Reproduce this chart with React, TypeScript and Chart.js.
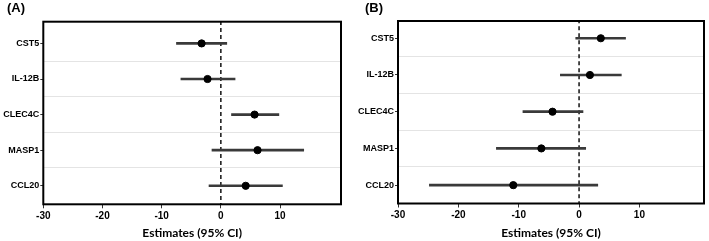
import React, { useEffect, useRef } from "react";
import { Chart, registerables } from "chart.js";

Chart.register(...registerables);

const CATEGORIES = ["CST5", "IL-12B", "CLEC4C", "MASP1", "CCL20"];
const X_TICKS = [-30, -20, -10, 0, 10];
const SEPARATORS = [1.5, 2.5, 3.5, 4.5];
const REF_VALUE = 0;

const EST_A = [-3.25, -2.25, 5.7, 6.2, 4.2];
const LOW_A = [-7.5, -6.75, 1.8, -1.5, -2.0];
const HIGH_A = [1.0, 2.4, 9.8, 14.0, 10.4];

const EST_B = [3.6, 1.8, -4.4, -6.25, -10.9];
const LOW_B = [-0.55, -3.1, -9.3, -13.7, -24.8];
const HIGH_B = [7.7, 7.0, 0.65, 1.1, 3.1];

const SANS = "'Liberation Sans', Arial, sans-serif";

const boxPlugin = {
  id: "box",
  afterDraw(chart: any) {
    const { ctx, chartArea } = chart;
    ctx.save();
    ctx.strokeStyle = "#000";
    ctx.lineWidth = 2;
    ctx.strokeRect(chartArea.left, chartArea.top, chartArea.right - chartArea.left, chartArea.bottom - chartArea.top);
    ctx.restore();
  },
};

type PanelProps = {
  label: string;
  labelLeft: number;
  est: number[];
  low: number[];
  high: number[];
  left: number;
  width: number;
  yWidth: number;
  padRight: number;
  padTop: number;
  xHeight: number;
  xMax: number;
  yMin: number;
  yMax: number;
};

function Panel(p: PanelProps) {
  const ref = useRef<HTMLCanvasElement>(null);
  useEffect(() => {
    if (!ref.current) return;
    const rows = CATEGORIES.map((_, i) => i + 1);
    const yTicks = [...rows, ...SEPARATORS].sort((a, b) => a - b);
    const chart = new Chart(ref.current, {
      type: "scatter",
      data: {
        datasets: [
          {
            type: "line",
            data: [
              { x: REF_VALUE, y: p.yMin - 1 },
              { x: REF_VALUE, y: p.yMax + 1 },
            ],
            borderColor: "#111",
            borderWidth: 1.5,
            borderDash: [4, 3],
            pointRadius: 0,
            order: 3,
          } as any,
          {
            type: "bar",
            indexAxis: "y",
            data: rows.map((r, i) => ({ x: [p.low[i], p.high[i]], y: r })),
            backgroundColor: "#3a3a3a",
            barThickness: 2,
            order: 2,
          } as any,
          {
            type: "scatter",
            data: rows.map((r, i) => ({ x: p.est[i], y: r })),
            backgroundColor: "#000",
            borderColor: "#000",
            pointRadius: 3.6,
            order: 1,
          } as any,
        ],
      },
      options: {
        animation: false,
        responsive: false,
        layout: { padding: { left: 0, right: p.padRight, top: p.padTop, bottom: 0 } },
        plugins: {
          legend: { display: false },
          tooltip: { enabled: false },
        },
        scales: {
          x: {
            type: "linear",
            min: -30,
            max: p.xMax,
            afterBuildTicks: (s: any) => {
              s.ticks = X_TICKS.map((v) => ({ value: v }));
            },
            afterFit: (s: any) => {
              s.height = p.xHeight;
            },
            grid: { drawOnChartArea: false, tickLength: 4, tickColor: "#333", tickWidth: 1 },
            border: { display: false },
            ticks: {
              color: "#000",
              padding: 2,
              font: { family: SANS, size: 10, weight: "bold" },
              autoSkip: false,
              maxRotation: 0,
            },
            title: {
              display: true,
              text: "Estimates (95% CI)",
              color: "#000",
              font: { family: "Lato, 'Open Sans', sans-serif", size: 12, weight: "bold" },
              padding: { top: 0, bottom: 1 },
            },
          },
          y: {
            type: "linear",
            reverse: true,
            min: p.yMin,
            max: p.yMax,
            offset: false,
            afterBuildTicks: (s: any) => {
              s.ticks = yTicks.map((v) => ({ value: v }));
            },
            afterFit: (s: any) => {
              s.width = p.yWidth;
            },
            grid: {
              offset: false,
              drawOnChartArea: true,
              tickLength: 3,
              color: (c: any) => (c.tick && Number.isInteger(c.tick.value) ? "rgba(0,0,0,0)" : "#e4e4e4"),
              tickColor: (c: any) => (c.tick && Number.isInteger(c.tick.value) ? "#333" : "rgba(0,0,0,0)"),
            },
            border: { display: false },
            ticks: {
              color: "#000",
              padding: 1,
              autoSkip: false,
              font: { family: SANS, size: 9, weight: "bold" },
              callback: (v: any) => (Number.isInteger(v) ? CATEGORIES[v - 1] : ""),
            },
          },
        },
      },
      plugins: [boxPlugin],
    });
    return () => chart.destroy();
  }, []);
  return (
    <>
      <canvas
        ref={ref}
        width={p.width}
        height={241}
        style={{ position: "absolute", left: p.left, top: 0, width: p.width, height: 241, display: "block" }}
      />
      <div
        style={{
          position: "absolute",
          left: p.labelLeft,
          top: 0,
          fontFamily: SANS,
          fontWeight: "bold",
          fontSize: 13,
          lineHeight: "16px",
          color: "#000",
        }}
      >
        {p.label}
      </div>
    </>
  );
}

export default function App() {
  return (
    <div style={{ position: "fixed", left: 0, top: 0, width: 709, height: 241, background: "#fff", overflow: "hidden" }}>
      <Panel
        label="(A)"
        labelLeft={7}
        est={EST_A}
        low={LOW_A}
        high={HIGH_A}
        left={0}
        width={350}
        yWidth={43.3}
        padRight={9}
        padTop={21.7}
        xHeight={36.7}
        xMax={20.3}
        yMin={0.39}
        yMax={5.52}
      />
      <Panel
        label="(B)"
        labelLeft={365}
        est={EST_B}
        low={LOW_B}
        high={HIGH_B}
        left={350}
        width={359}
        yWidth={48}
        padRight={3}
        padTop={21}
        xHeight={37.5}
        xMax={20.7}
        yMin={0.53}
        yMax={5.5}
      />
    </div>
  );
}
